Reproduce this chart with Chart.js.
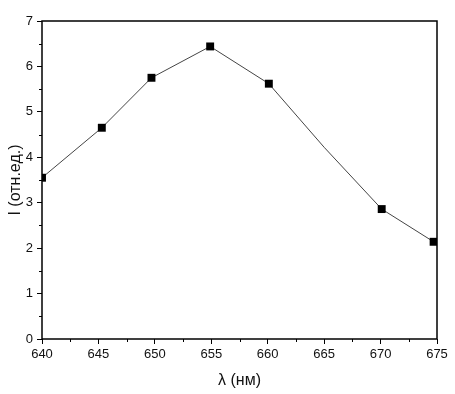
<!DOCTYPE html>
<html>
<head>
<meta charset="utf-8">
<script src="https://cdn.jsdelivr.net/npm/chart.js@4"></script>
<style>
  html, body { margin: 0; padding: 0; background: #fff; }
  #wrap { width: 455px; height: 394px; }
</style>
</head>
<body>
<div id="wrap"><canvas id="spectrum" width="455" height="394"></canvas></div>
<script>
// wavelengths (nm) and intensity (rel. units)
const wavelengths = [640, 645.3, 649.7, 654.9, 660.1, 665, 670.1, 674.7];
const intensity   = [3.55, 4.65, 5.75, 6.44, 5.62, 4.22, 2.86, 2.14];
const hasMarker   = [true, true, true, true, true, false, true, true];

const xTicks = [640, 645, 650, 655, 660, 665, 670, 675];
const yTicks = [0, 1, 2, 3, 4, 5, 6, 7];

const tickFont  = { family: 'Liberation Sans, Arial, sans-serif', size: 13 };
const titleFont = { family: 'Liberation Sans, Arial, sans-serif', size: 16 };

// frame + short minor ticks, placed through the chart's own scales
const framePlugin = {
    id: 'frame',
    afterDraw(chart) {
        const { ctx, chartArea: a, scales } = chart;
        ctx.save();
        ctx.strokeStyle = '#000';
        ctx.lineWidth = 1.5;
        ctx.strokeRect(a.left, a.top, a.right - a.left, a.bottom - a.top);
        ctx.lineWidth = 1;
        ctx.beginPath();
        for (let i = 0; i < xTicks.length - 1; i++) {
            const px = Math.round(scales.x.getPixelForValue((xTicks[i] + xTicks[i + 1]) / 2)) + 0.5;
            ctx.moveTo(px, a.bottom);
            ctx.lineTo(px, a.bottom + 3);
        }
        for (let i = 0; i < yTicks.length - 1; i++) {
            const py = Math.round(scales.y.getPixelForValue((yTicks[i] + yTicks[i + 1]) / 2)) + 0.5;
            ctx.moveTo(a.left, py);
            ctx.lineTo(a.left - 3, py);
        }
        ctx.stroke();
        ctx.restore();
    }
};

new Chart(document.getElementById('spectrum'), {
    type: 'line',
    data: {
        datasets: [{
            data: wavelengths.map((w, i) => ({ x: w, y: intensity[i] })),
            borderColor: '#444',
            borderWidth: 1,
            backgroundColor: '#000',
            pointStyle: 'rect',
            pointRadius: hasMarker.map(m => m ? 5.6 : 0),
            pointBorderWidth: 0,
            tension: 0
        }]
    },
    options: {
        responsive: false,
        animation: false,
        layout: { padding: { left: 2, top: 21, right: 18, bottom: 0 } },
        plugins: { legend: { display: false }, tooltip: { enabled: false } },
        scales: {
            x: {
                type: 'linear',
                min: 640,
                max: 675,
                afterBuildTicks: s => { s.ticks = xTicks.map(v => ({ value: v })); },
                afterFit: s => { s.height = 55; },
                border: { display: false },
                grid: { drawOnChartArea: false, tickLength: 5, color: '#000' },
                ticks: { color: '#111', font: tickFont, padding: 3, maxRotation: 0 },
                title: { display: true, text: 'λ (нм)', color: '#111', font: titleFont, padding: { top: 0, bottom: 4 } }
            },
            y: {
                min: 0,
                max: 7,
                afterBuildTicks: s => { s.ticks = yTicks.map(v => ({ value: v })); },
                afterFit: s => { s.width = 40; },
                border: { display: false },
                grid: { drawOnChartArea: false, tickLength: 5, color: '#000' },
                ticks: { color: '#111', font: tickFont, padding: 4 },
                title: { display: true, text: 'I (отн.ед.)', color: '#111', font: titleFont, padding: { bottom: 0 } }
            }
        }
    },
    plugins: [framePlugin]
});
</script>
</body>
</html>
